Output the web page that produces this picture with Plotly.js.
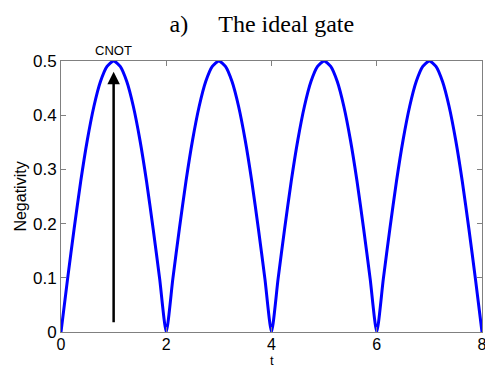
<!DOCTYPE html>
<html>
<head>
<meta charset="utf-8">
<script src="https://cdn.plot.ly/plotly-3.0.1.min.js"></script>
<style>
  html, body { margin: 0; padding: 0; background: white; }
  #chart { width: 485px; height: 367px; }
</style>
</head>
<body>
<div id="chart"></div>
<script>
// time points, every 0.125
const tValues = [
  0, 0.125, 0.25, 0.375, 0.5, 0.625, 0.75, 0.875, 1, 1.125, 1.25, 1.375, 1.5, 1.625, 1.75, 1.875,
  2, 2.125, 2.25, 2.375, 2.5, 2.625, 2.75, 2.875, 3, 3.125, 3.25, 3.375, 3.5, 3.625, 3.75, 3.875,
  4, 4.125, 4.25, 4.375, 4.5, 4.625, 4.75, 4.875, 5, 5.125, 5.25, 5.375, 5.5, 5.625, 5.75, 5.875,
  6, 6.125, 6.25, 6.375, 6.5, 6.625, 6.75, 6.875, 7, 7.125, 7.25, 7.375, 7.5, 7.625, 7.75, 7.875,
  8
];

const negativity = [
  0, 0.098, 0.191, 0.278, 0.354, 0.416, 0.462, 0.490, 0.5, 0.490, 0.462, 0.416, 0.354, 0.278, 0.191, 0.098,
  0, 0.098, 0.191, 0.278, 0.354, 0.416, 0.462, 0.490, 0.5, 0.490, 0.462, 0.416, 0.354, 0.278, 0.191, 0.098,
  0, 0.098, 0.191, 0.278, 0.354, 0.416, 0.462, 0.490, 0.5, 0.490, 0.462, 0.416, 0.354, 0.278, 0.191, 0.098,
  0, 0.098, 0.191, 0.278, 0.354, 0.416, 0.462, 0.490, 0.5, 0.490, 0.462, 0.416, 0.354, 0.278, 0.191, 0.098,
  0
];

const xTicks = [0, 2, 4, 6, 8];
const yTicks = [0, 0.1, 0.2, 0.3, 0.4, 0.5];

// CNOT marker: arrow at t = 1
const cnotT = 1;
const cnotFrom = 0.015;
const cnotTo = 0.48;

const trace = {
  x: tValues,
  y: negativity,
  type: 'scatter',
  mode: 'lines',
  line: { color: '#0000ff', width: 3, shape: 'spline', smoothing: 0.6 },
  cliponaxis: false,
  hoverinfo: 'skip'
};

const layout = {
  width: 485,
  height: 367,
  margin: { l: 61, r: 3, t: 61, b: 35 },
  showlegend: false,
  paper_bgcolor: 'white',
  plot_bgcolor: 'white',
  font: { family: 'Arial, "Liberation Sans", sans-serif', color: '#000', size: 17 },
  title: {
    text: 'a)&nbsp;&nbsp;&nbsp;&nbsp;&nbsp;The ideal gate',
    font: { family: '"Liberation Serif", "Times New Roman", serif', size: 24, color: '#000' },
    x: 0.54, xanchor: 'center',
    y: 0.935, yanchor: 'middle'
  },
  xaxis: {
    range: [0, 8],
    tickvals: xTicks,
    ticktext: xTicks.map(String),
    ticks: 'inside',
    ticklen: 5,
    tickcolor: '#808080',
    showline: true,
    linecolor: '#808080',
    linewidth: 1,
    mirror: 'ticks',
    showgrid: false,
    zeroline: false,
    ticklabeloverflow: 'allow',
    ticklabelstandoff: -2,
    tickfont: { size: 16 }
  },
  yaxis: {
    range: [0, 0.5],
    tickvals: yTicks,
    ticktext: yTicks.map(String),
    ticks: 'inside',
    ticklen: 5,
    tickcolor: '#808080',
    showline: true,
    linecolor: '#808080',
    linewidth: 1,
    mirror: 'ticks',
    showgrid: false,
    zeroline: false,
    tickfont: { size: 17 },
    title: { text: 'Negativity', font: { size: 16 }, standoff: 2 }
  },
  annotations: [
    {
      x: cnotT, y: cnotTo, xref: 'x', yref: 'y',
      ax: cnotT, ay: cnotFrom, axref: 'x', ayref: 'y',
      showarrow: true, arrowhead: 2, arrowsize: 1, arrowwidth: 2.5,
      arrowcolor: '#000', text: ''
    },
    {
      x: cnotT, y: 0.5, xref: 'x', yref: 'y',
      yanchor: 'bottom', yshift: 1,
      text: 'CNOT', showarrow: false,
      font: { size: 13, color: '#000' }
    },
    {
      // x axis label, placed just under the tick labels
      x: 4, y: 0, xref: 'x', yref: 'paper',
      yanchor: 'top', yshift: -20, borderpad: 0,
      text: 't', showarrow: false,
      font: { size: 13, color: '#000' }
    }
  ]
};

Plotly.newPlot('chart', [trace], layout, { displayModeBar: false, staticPlot: true });
</script>
</body>
</html>
